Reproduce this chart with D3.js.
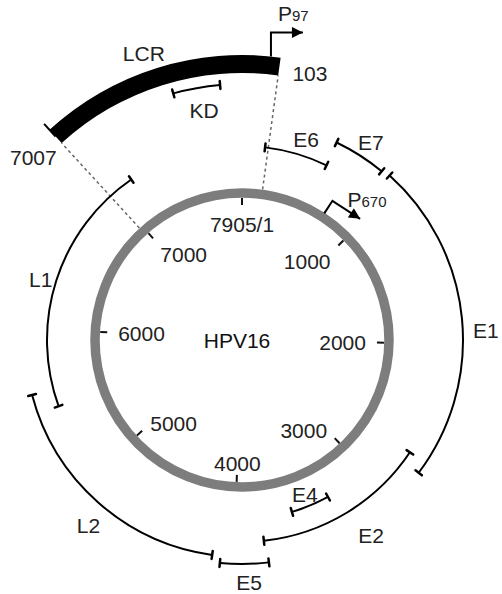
<!DOCTYPE html>
<html>
<head>
<meta charset="utf-8">
<script src="https://cdn.jsdelivr.net/npm/d3@7"></script>
<style>
body { margin: 0; background: #fff; }
text { font-family: "Liberation Sans", Arial, sans-serif; fill: #222; }
</style>
</head>
<body>
<div id="chart"></div>
<script>
// HPV16 genome map
var genomeLength = 7905;

var genes = ["E6", "E7", "E1", "E2", "E4", "E5", "L2", "L1", "KD"];
var geneStart = [150, 562, 920, 2718, 3322, 3801, 4126, 5493, 7563];
var geneEnd = [567, 870, 2787, 3816, 3597, 4077, 5606, 7145, 7797];

var lcrName = "LCR";
var lcrStart = 6972, lcrEnd = 171;
var lcrEndLabels = ["7007", "103"];

var tickValues = [0, 1000, 2000, 3000, 4000, 5000, 6000, 7000];
var tickLabels = ["7905/1", "1000", "2000", "3000", "4000", "5000", "6000", "7000"];

var promoters = ["97", "670"];
var promoterPos = [128, 725];

// layout
var width = 502, height = 594;
var cx = 242, cy = 340;
var genomeR = 147;
var fontSize = 21;
var ring = {E6: 194, E7: 219, E1: 221, E2: 202, E4: 179, E5: 224, L2: 217, L1: 195, KD: 256};
var labelAt = {E6: [388, 211], E7: [727, 236], E1: [1926, 244], E2: [3217, 234], E4: [3467, 167],
               E5: [3916, 243], L2: [4822, 241], L1: [6294, 210], KD: [7699, 233]};

var angle = d3.scaleLinear().domain([0, genomeLength]).range([0, 2 * Math.PI]);

function polar(pos, r) {
    var a = angle(pos);
    return [cx + r * Math.sin(a), cy - r * Math.cos(a)];
}

var svg = d3.select("#chart")
    .append("svg")
    .attr("width", width)
    .attr("height", height);

svg.append("defs").append("marker")
    .attr("id", "head")
    .attr("markerUnits", "userSpaceOnUse")
    .attr("viewBox", "0 0 10 10")
    .attr("refX", 10).attr("refY", 5)
    .attr("markerWidth", 12).attr("markerHeight", 11)
    .attr("orient", "auto")
    .append("path")
    .attr("d", "M0,0L10,5L0,10Z")
    .attr("fill", "#000");

// dotted guide lines from genome to LCR
svg.selectAll(".guide")
    .data([lcrStart, lcrEnd])
    .enter()
    .append("line")
    .attr("x1", function(d) { return polar(d, genomeR + 5)[0]; })
    .attr("y1", function(d) { return polar(d, genomeR + 5)[1]; })
    .attr("x2", function(d) { return polar(d, 267)[0]; })
    .attr("y2", function(d) { return polar(d, 267)[1]; })
    .attr("stroke", "#666")
    .attr("stroke-width", 1.5)
    .attr("stroke-dasharray", "3,3");

// genome circle
svg.append("circle")
    .attr("cx", cx).attr("cy", cy).attr("r", genomeR)
    .attr("fill", "none")
    .attr("stroke", "#7d7d7d")
    .attr("stroke-width", 9.5);

svg.selectAll(".tick")
    .data(tickValues)
    .enter()
    .append("line")
    .attr("x1", function(d) { return polar(d, 135)[0]; })
    .attr("y1", function(d) { return polar(d, 135)[1]; })
    .attr("x2", function(d) { return polar(d, 142)[0]; })
    .attr("y2", function(d) { return polar(d, 142)[1]; })
    .attr("stroke", "#111")
    .attr("stroke-width", 2);

svg.selectAll(".tickLabel")
    .data(tickValues)
    .enter()
    .append("text")
    .attr("x", function(d) { return polar(d, 124)[0]; })
    .attr("y", function(d) {
        var p = polar(d, 124);
        return Math.cos(angle(d)) > 0.5 ? p[1] + 8 : p[1];
    })
    .attr("dy", "0.36em")
    .attr("font-size", fontSize)
    .attr("text-anchor", function(d) {
        var s = Math.sin(angle(d));
        return s > 0.3 ? "end" : (s < -0.3 ? "start" : "middle");
    })
    .text(function(d, i) { return tickLabels[i]; });

svg.append("text")
    .attr("x", cx - 5).attr("y", cy)
    .attr("dy", "0.36em")
    .attr("font-size", fontSize)
    .attr("text-anchor", "middle")
    .style("fill", "#111")
    .text("HPV16");

// gene arcs
var geneData = genes.map(function(g, i) { return {name: g, start: geneStart[i], end: geneEnd[i]}; });

svg.selectAll(".gene")
    .data(geneData)
    .enter()
    .append("path")
    .attr("d", function(d) {
        var p = d3.path();
        p.arc(cx, cy, ring[d.name], angle(d.start) - Math.PI / 2, angle(d.end) - Math.PI / 2);
        return p.toString();
    })
    .attr("fill", "none")
    .attr("stroke", "#000")
    .attr("stroke-width", 2);

var caps = [];
geneData.forEach(function(d) {
    caps.push({pos: d.start, r: ring[d.name]});
    caps.push({pos: d.end, r: ring[d.name]});
});

svg.selectAll(".cap")
    .data(caps)
    .enter()
    .append("line")
    .attr("x1", function(d) { return polar(d.pos, d.r - 4)[0]; })
    .attr("y1", function(d) { return polar(d.pos, d.r - 4)[1]; })
    .attr("x2", function(d) { return polar(d.pos, d.r + 4)[0]; })
    .attr("y2", function(d) { return polar(d.pos, d.r + 4)[1]; })
    .attr("stroke", "#000")
    .attr("stroke-width", 2.5)
    .attr("stroke-linecap", "round");

svg.selectAll(".geneLabel")
    .data(geneData)
    .enter()
    .append("text")
    .attr("x", function(d) { return polar(labelAt[d.name][0], labelAt[d.name][1])[0]; })
    .attr("y", function(d) { return polar(labelAt[d.name][0], labelAt[d.name][1])[1]; })
    .attr("dy", "0.36em")
    .attr("font-size", fontSize)
    .attr("text-anchor", "middle")
    .text(function(d) { return d.name; });

// LCR block
svg.append("path")
    .attr("transform", "translate(" + cx + "," + cy + ")")
    .attr("d", d3.arc()
        .innerRadius(267)
        .outerRadius(285)
        .startAngle(angle(lcrStart))
        .endAngle(angle(lcrEnd + genomeLength)))
    .attr("fill", "#000");

svg.append("line")
    .attr("x1", polar(lcrStart, 276)[0]).attr("y1", polar(lcrStart, 276)[1])
    .attr("x2", polar(lcrStart, 293)[0]).attr("y2", polar(lcrStart, 293)[1])
    .attr("stroke", "#000")
    .attr("stroke-width", 2);

svg.append("text")
    .attr("x", polar(7490, 303)[0]).attr("y", polar(7490, 303)[1])
    .attr("dy", "0.36em")
    .attr("font-size", fontSize)
    .attr("text-anchor", "middle")
    .text(lcrName);

svg.selectAll(".lcrEnd")
    .data([[6832, 277], [314, 275]])
    .enter()
    .append("text")
    .attr("x", function(d) { return polar(d[0], d[1])[0]; })
    .attr("y", function(d) { return polar(d[0], d[1])[1]; })
    .attr("dy", "0.36em")
    .attr("font-size", fontSize)
    .attr("text-anchor", "middle")
    .text(function(d, i) { return lcrEndLabels[i]; });

// promoters
function promoterArrow(pos, r0, len1, len2, axisAligned, label, tx, ty) {
    var a = angle(pos);
    var s = polar(pos, r0);
    var d1 = axisAligned ? [0, -1] : [Math.sin(a), -Math.cos(a)];
    var d2 = axisAligned ? [1, 0] : [Math.cos(a), Math.sin(a)];
    var c = [s[0] + d1[0] * len1, s[1] + d1[1] * len1];
    var e = [c[0] + d2[0] * len2, c[1] + d2[1] * len2];
    svg.append("path")
        .attr("d", d3.line()([s, c, e]))
        .attr("fill", "none")
        .attr("stroke", "#000")
        .attr("stroke-width", 2)
        .attr("marker-end", "url(#head)");
    var t = svg.append("text")
        .attr("x", c[0] + tx).attr("y", c[1] + ty);
    t.append("tspan").attr("font-size", 21).text("P");
    t.append("tspan").attr("font-size", 15).text(label);
}

promoterArrow(promoterPos[0], 285, 24, 32, true, promoters[0], 7, -11);
promoterArrow(promoterPos[1], 151, 15, 33, false, promoters[1], 15, 6);
</script>
</body>
</html>
